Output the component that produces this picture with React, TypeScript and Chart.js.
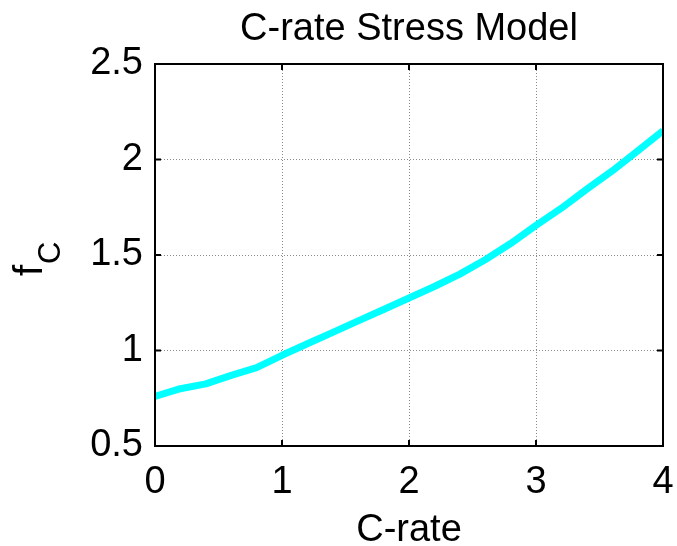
import React, { useEffect, useRef } from "react";
import { Chart, registerables } from "chart.js";

Chart.register(...registerables);

// C-rate stress factor curve
const cRate: number[] = [0, 0.2, 0.4, 0.6, 0.8, 1.0, 1.2, 1.4, 1.6, 1.8, 2.0, 2.2, 2.4, 2.6, 2.8, 3.0, 3.2, 3.4, 3.6, 3.8, 4.0];
const fC: number[] = [0.76, 0.8, 0.825, 0.87, 0.91, 0.975, 1.035, 1.095, 1.155, 1.215, 1.275, 1.335, 1.4, 1.475, 1.56, 1.655, 1.745, 1.845, 1.94, 2.045, 2.15];

const xTicks: number[] = [0, 1, 2, 3, 4];
const yTicks: number[] = [0.5, 1, 1.5, 2, 2.5];

const titleText = "C-rate Stress Model";
const xLabel = "C-rate";
const yLabelMain = "f";
const yLabelSub = "C";

const FONT = "'Liberation Sans', Arial, sans-serif";

// Axis box, inward tick marks and text labels drawn in MATLAB style
const decorPlugin = {
  id: "matlabDecor",
  afterDraw(chart: any) {
    const { ctx, chartArea } = chart;
    const { left, right, top, bottom } = chartArea;
    const xs = chart.scales.x;
    const ys = chart.scales.y;
    ctx.save();
    ctx.strokeStyle = "#000";
    ctx.lineWidth = 2;
    ctx.strokeRect(left, top, right - left, bottom - top);

    const tl = 6;
    ctx.lineWidth = 2;
    ctx.beginPath();
    xTicks.forEach((v) => {
      const px = xs.getPixelForValue(v);
      ctx.moveTo(px, bottom);
      ctx.lineTo(px, bottom - tl);
      ctx.moveTo(px, top);
      ctx.lineTo(px, top + tl);
    });
    yTicks.forEach((v) => {
      const py = ys.getPixelForValue(v);
      ctx.moveTo(left, py);
      ctx.lineTo(left + tl, py);
      ctx.moveTo(right, py);
      ctx.lineTo(right - tl, py);
    });
    ctx.stroke();

    ctx.fillStyle = "#000";
    ctx.textAlign = "center";
    ctx.textBaseline = "alphabetic";
    ctx.font = `38px ${FONT}`;
    const cx = (left + right) / 2;
    ctx.fillText(titleText, cx, 40);
    ctx.fillText(xLabel, cx, 541);

    // rotated y label with subscript
    ctx.translate(42, 268);
    ctx.rotate(-Math.PI / 2);
    ctx.textAlign = "left";
    ctx.font = `40px ${FONT}`;
    ctx.fillText(yLabelMain, -8, 0);
    ctx.font = `31px ${FONT}`;
    ctx.fillText(yLabelSub, 4, 18);
    ctx.restore();
  },
};

export default function App() {
  const canvasRef = useRef<HTMLCanvasElement | null>(null);

  useEffect(() => {
    const canvas = canvasRef.current;
    if (!canvas) return;
    const chart = new Chart(canvas, {
      type: "line",
      data: {
        datasets: [
          {
            data: cRate.map((x, i) => ({ x, y: fC[i] })),
            borderColor: "#00FFFF",
            borderWidth: 7,
            pointRadius: 0,
            borderJoinStyle: "round",
            borderCapStyle: "butt",
            tension: 0,
          },
        ],
      },
      options: {
        responsive: false,
        animation: false,
        events: [],
        layout: { padding: { left: 0, right: 14, top: 64, bottom: 0 } },
        plugins: {
          legend: { display: false },
          title: { display: false },
          tooltip: { enabled: false },
        },
        scales: {
          x: {
            type: "linear",
            min: 0,
            max: 4,
            afterBuildTicks: (scale: any) => {
              scale.ticks = xTicks.map((v) => ({ value: v }));
            },
            afterFit: (scale: any) => {
              scale.height = 100;
              scale.paddingLeft = 0;
              scale.paddingRight = 0;
            },
            ticks: {
              color: "#000",
              padding: 14,
              maxRotation: 0,
              font: { family: FONT, size: 38 },
              callback: (v: any) => String(v),
            },
            grid: { color: "#8a8a8a", lineWidth: 1, drawTicks: false },
            border: { display: false, dash: [1, 2] },
          },
          y: {
            type: "linear",
            min: 0.5,
            max: 2.5,
            afterBuildTicks: (scale: any) => {
              scale.ticks = yTicks.map((v) => ({ value: v }));
            },
            afterFit: (scale: any) => {
              scale.width = 155;
              scale.paddingTop = 0;
              scale.paddingBottom = 0;
            },
            ticks: {
              color: "#000",
              padding: 12,
              font: { family: FONT, size: 38 },
              callback: (v: any) => String(v),
            },
            grid: { color: "#8a8a8a", lineWidth: 1, drawTicks: false },
            border: { display: false, dash: [1, 2] },
          },
        },
      },
      plugins: [decorPlugin],
    });
    return () => chart.destroy();
  }, []);

  return (
    <div style={{ position: "absolute", left: 0, top: 0, width: 677, height: 546, background: "#fff" }}>
      <canvas ref={canvasRef} width={677} height={546} style={{ display: "block" }} />
    </div>
  );
}
